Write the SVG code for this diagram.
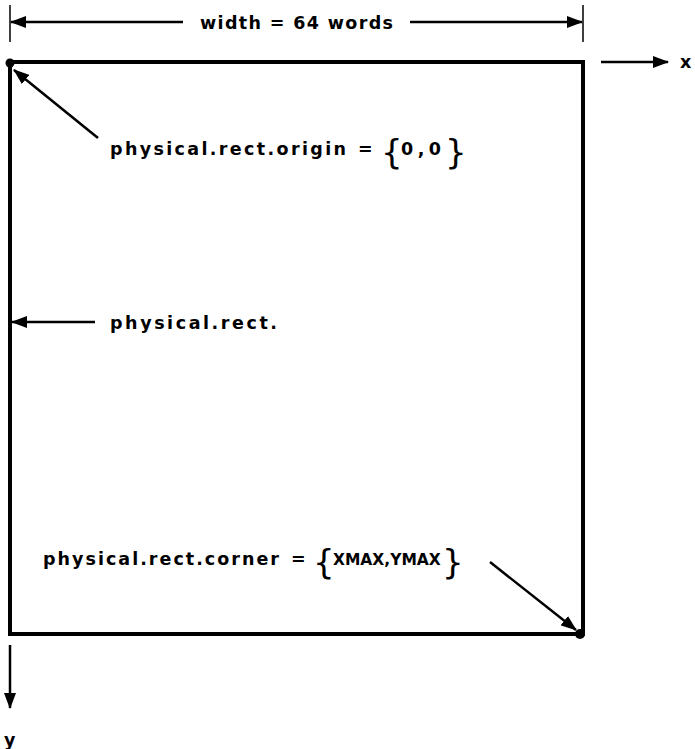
<svg xmlns="http://www.w3.org/2000/svg" width="695" height="749" viewBox="0 0 695 749">
<style>
text{font-family:"DejaVu Sans","Liberation Sans",sans-serif;font-weight:bold;fill:#000}
.t{font-size:17.5px}
.c{font-size:15.5px}
.b{font-size:34px;font-weight:normal}
.ln{stroke:#000;stroke-width:2.5;fill:none}
.tick{stroke:#000;stroke-width:1.5}
</style>
<defs>
<marker id="ah" viewBox="0 0 16 12" refX="15" refY="6" markerWidth="16" markerHeight="12" markerUnits="userSpaceOnUse" orient="auto">
<path d="M0,0 L16,6 L0,12 Z" fill="#000"/>
</marker>
</defs>
<g id="rect">
<rect x="10" y="62" width="573" height="572" fill="none" stroke="#000" stroke-width="4"/>
<circle cx="10" cy="63" r="4.5" fill="#000"/>
<circle cx="580" cy="634" r="5" fill="#000"/>
</g>
<g id="width-dim">
<line class="tick" x1="10" y1="5" x2="10" y2="42"/>
<line class="tick" x1="583" y1="5" x2="583" y2="42"/>
<text class="t" x="200" y="29" textLength="193" lengthAdjust="spacing">width = 64 words</text>
</g>
<g id="x-axis"><text class="t" x="680" y="68">x</text></g>
<g id="y-axis"><text class="t" x="4" y="746">y</text></g>
<g id="origin-label">
<text class="t" x="110" y="155" textLength="236" lengthAdjust="spacing">physical.rect.origin</text>
<text class="t" x="358" y="155">=</text>
<text class="b" x="381" y="164">{</text>
<text class="t" x="401" y="155" textLength="40" lengthAdjust="spacing">0,0</text>
<text class="b" x="445" y="164">}</text>
</g>
<g id="rect-label">
<text class="t" x="110" y="329" textLength="167" lengthAdjust="spacing">physical.rect.</text>
</g>
<g id="corner-label">
<text class="t" x="43" y="565" textLength="236" lengthAdjust="spacing">physical.rect.corner</text>
<text class="t" x="291" y="565">=</text>
<text class="b" x="313" y="574">{</text>
<text class="c" x="333" y="565">XMAX,YMAX</text>
<text class="b" x="442" y="574">}</text>
</g>
<g id="connectors">
<line class="ln" x1="183" y1="22" x2="11" y2="22" marker-end="url(#ah)"/>
<line class="ln" x1="410" y1="22" x2="582" y2="22" marker-end="url(#ah)"/>
<line class="ln" x1="601" y1="62" x2="668" y2="62" marker-end="url(#ah)"/>
<line class="ln" x1="10" y1="645" x2="10" y2="708" marker-end="url(#ah)"/>
<line class="ln" x1="98" y1="138" x2="14" y2="70" marker-end="url(#ah)"/>
<line class="ln" x1="95" y1="322" x2="12" y2="322" marker-end="url(#ah)"/>
<line class="ln" x1="490" y1="562" x2="576" y2="630" marker-end="url(#ah)"/>
</g>
</svg>
